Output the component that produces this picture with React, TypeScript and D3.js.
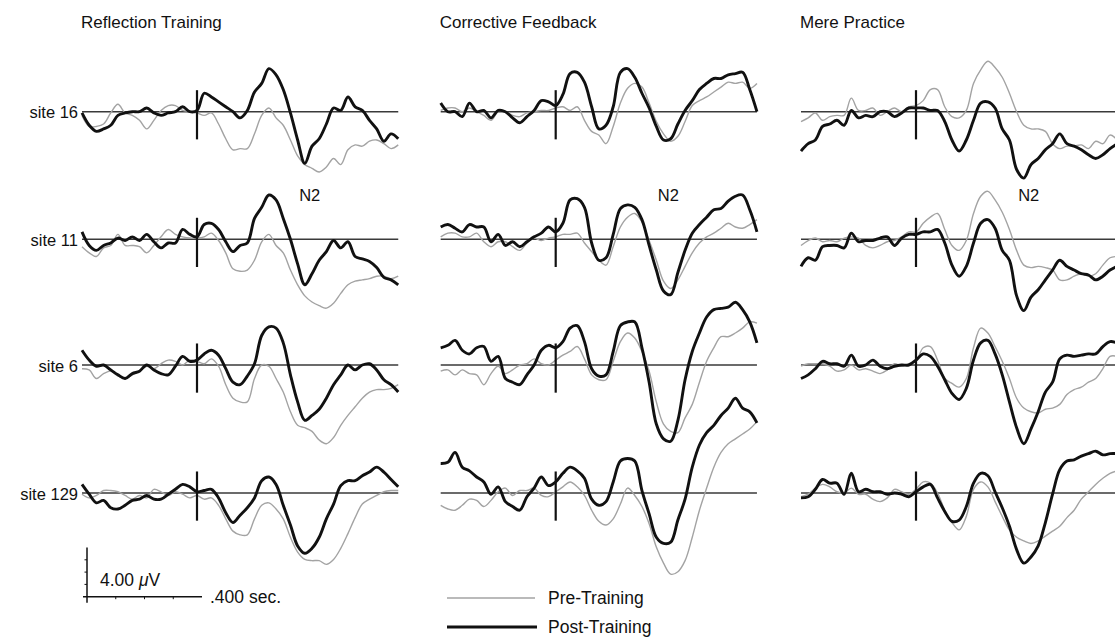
import React from "react";
import * as d3 from "d3";

// sample times (ms relative to stimulus onset)
const times = [-400, -375, -350, -325, -300, -275, -250, -225, -200, -175, -150, -125, -100, -75, -50, -25, 0, 25, 50, 75, 100, 125, 150, 175, 200, 225, 250, 275, 300, 325, 350, 375, 400, 425, 450, 475, 500, 525, 550, 575, 600, 625, 650, 675, 700];

const conditions = ["Reflection Training", "Corrective Feedback", "Mere Practice"];
const sites = ["site 16", "site 11", "site 6", "site 129"];
const legendLabels = ["Pre-Training", "Post-Training"];
const voltLabel = "4.00 ";
const timeLabel = ".400 sec.";
const scaleVolts = 4;
const scaleMs = 400;
const componentLabel = "N2";

// Reflection Training (µV, positive up)
const reflPost16 = [-0.1, -1.1, -1.6, -1.4, -1.1, -0.3, -0.1, 0, 0, 0.3, -0.1, -0.3, -0.1, 0, 0.4, 0, 0.1, 1.5, 1.2, 0.8, 0.4, 0, -0.5, 0.1, 1.6, 2.3, 3.5, 3.0, 1.8, -0.1, -2.3, -4.2, -2.8, -2.2, -1.0, 0.3, 0.1, 1.2, 0.4, 0.1, -0.7, -1.4, -2.4, -1.8, -2.2];
const reflPre16 = [-0.3, -1.2, -1.2, -1.0, -0.1, 0.6, -0.1, -0.3, -0.7, -1.4, -0.7, 0.1, 0.5, 0.5, 0.1, 0, -0.1, -0.3, -0.1, -1.0, -2.2, -3.1, -3.0, -3.0, -1.8, -0.3, 0.3, -0.5, -1.1, -2.3, -3.6, -4.3, -4.6, -4.9, -4.5, -3.8, -4.3, -3.1, -2.7, -2.8, -2.4, -2.3, -2.6, -3.0, -2.7];
const reflPost11 = [0.6, -0.5, -0.9, -0.5, -0.3, 0.1, -0.1, 0.2, -0.1, 0.4, -0.2, -0.7, -0.3, -0.3, 0.8, 0.4, 0.2, 1.2, 1.3, 0.8, -0.2, -1.0, -0.5, -0.3, 1.7, 2.6, 3.6, 3.2, 1.7, 0, -2.0, -3.7, -2.8, -1.7, -1.0, -0.1, -0.7, -0.2, -1.4, -1.6, -1.8, -2.3, -3.1, -3.3, -3.7];
const reflPre11 = [-0.6, -1.1, -1.4, -0.7, -0.5, 0.4, -0.5, -0.5, -0.6, -1.1, -0.5, 0.2, 0.8, 0.4, 0.2, 0.1, 0.1, 0.2, 0.5, -0.1, -1.1, -2.4, -2.6, -2.5, -1.7, -0.2, 0.4, -0.5, -1.1, -2.5, -3.7, -4.6, -5.1, -5.4, -5.6, -5.2, -4.4, -3.7, -3.4, -3.3, -3.2, -3.0, -3.0, -3.2, -3.0];
const reflPost6 = [1.2, 0.4, -0.1, 0, -0.4, -0.8, -1.1, -0.7, -0.5, 0, -0.4, -0.7, -0.8, -0.1, 0.7, 0.3, 0.4, 0.9, 1.2, 0.8, -0.3, -1.4, -1.6, -0.9, 0.1, 2.4, 3.1, 3.0, 1.8, -0.8, -3.0, -4.5, -4.1, -3.6, -2.7, -1.6, -0.8, 0, -0.4, 0, 0.1, -0.4, -1.2, -1.6, -2.2];
const reflPre6 = [-0.3, -0.4, -1.1, -0.7, -0.5, -0.9, -1.1, -0.8, -0.5, -0.1, -0.3, 0.1, 0.4, 0.3, 0, 0.4, 0.3, 0.1, 0.5, -0.1, -1.6, -2.7, -3.0, -3.0, -1.1, 0, -0.1, -1.1, -2.2, -3.8, -4.9, -5.1, -5.4, -6.1, -6.4, -5.9, -4.9, -4.1, -3.4, -2.7, -2.2, -2.0, -2.0, -1.9, -1.6];
const reflPost129 = [0.7, -0.1, -0.8, -0.6, -1.2, -1.3, -1.0, -0.6, -0.5, -0.2, -0.5, -0.5, -0.1, 0.3, 0.7, 0.5, 0.1, 0.2, 0.3, -0.4, -1.6, -2.4, -1.8, -1.2, -0.4, 1.0, 1.3, 0.7, -1.0, -2.6, -4.3, -4.9, -4.5, -3.6, -2.1, -0.9, 0.6, 1.0, 1.0, 1.4, 1.7, 2.1, 1.7, 1.1, 0.5];
const reflPre129 = [-0.1, -0.4, -0.2, 0.2, 0.2, 0.1, -0.2, -0.5, -0.2, -0.4, 0.3, 0.1, -0.2, 0.1, -0.1, -0.4, -0.2, -0.5, -0.4, -1.0, -2.1, -3.1, -3.4, -3.4, -2.1, -1.0, -0.8, -1.3, -2.1, -3.6, -4.8, -5.4, -5.5, -5.5, -5.8, -5.4, -4.5, -3.3, -2.0, -0.9, -0.5, -0.2, 0.1, 0.2, 0.2];

// Corrective Feedback
const corrPost16 = [0.7, 0, 0, -0.4, 0.7, 0, 0.1, -0.5, 0.1, 0, -0.5, -0.9, -0.4, 0.1, 0.9, 0.8, 0.5, 1.4, 3.1, 3.2, 2.4, 0.4, -1.4, -1.1, 0.4, 3.2, 3.5, 2.8, 1.5, 0.3, -1.2, -2.3, -2.2, -1.0, 0.1, 0.9, 1.8, 2.3, 2.7, 2.7, 3.0, 3.1, 3.2, 1.8, 0];
const corrPre16 = [0.1, 0.3, 0.3, 0, 0.3, 0, -0.3, -0.7, 0, 0, -0.3, -0.4, -0.1, 0, 0.1, 0.1, 0.3, 0.4, 0.1, 0.4, -0.7, -1.6, -1.9, -2.6, -1.2, 0.7, 1.9, 2.3, 2.0, 0.7, -0.8, -1.8, -2.4, -2.0, -0.8, 0.5, 0.9, 1.2, 1.6, 2.0, 2.4, 2.3, 2.4, 1.9, 2.3];
const corrPost11 = [1.0, 1.2, 0.9, 0.6, 1.2, 1.0, 1.0, -0.2, 0.4, -0.5, -0.2, -0.6, -0.2, 0.2, 0.5, 1.0, 0.6, 1.3, 3.2, 3.3, 2.6, -0.3, -1.7, -1.5, 0.4, 2.5, 2.8, 2.6, 1.6, -0.5, -2.5, -4.2, -4.5, -2.7, -0.9, 0.5, 1.2, 1.8, 2.4, 2.5, 3.1, 3.5, 3.6, 2.4, 0.6];
const corrPre11 = [0.2, 0.5, 0.5, 0.2, 0.2, 0.5, -0.2, -0.6, -0.2, -0.2, -0.6, -0.9, -0.3, 0.1, -0.1, 0.1, 0.2, 0.4, 0.4, 0.5, -0.3, -1.0, -1.7, -2.1, -0.6, 1.0, 1.8, 2.1, 1.4, -0.1, -1.7, -3.4, -4.0, -3.3, -2.2, -1.1, -0.3, 0.2, 0.5, 0.9, 1.3, 1.0, 0.9, 1.2, 1.6];
const corrPost6 = [1.4, 1.6, 2.0, 1.2, 0.9, 1.4, 1.5, 0.3, 0.7, -1.1, -1.4, -1.6, -0.8, 0, 1.2, 1.6, 1.4, 1.9, 3.0, 3.2, 1.9, -0.3, -0.9, -0.8, 1.1, 3.2, 3.5, 3.5, 1.4, -1.4, -4.8, -6.0, -6.2, -4.5, -1.2, 1.1, 2.6, 3.9, 4.5, 4.6, 4.7, 5.1, 4.5, 3.5, 1.8];
const corrPre6 = [-0.5, -0.4, -0.8, -0.4, -0.7, -0.8, -1.6, -0.7, -0.1, -0.7, -0.4, 0, 0.1, 0.5, 0.1, 0, 0.4, 0.8, 1.1, 1.5, 0.5, -0.8, -1.2, -1.2, 0.3, 1.9, 2.6, 2.2, 1.1, -0.5, -3.0, -4.8, -5.4, -5.5, -4.3, -3.2, -1.4, 0.3, 1.4, 2.3, 2.3, 2.6, 3.0, 3.5, 3.4];
const corrPost129 = [2.4, 2.5, 3.3, 2.1, 1.8, 1.3, 0.9, -0.1, 0.5, -0.7, -1.1, -1.4, -0.3, 0.4, 1.3, 0.6, 0.9, 1.6, 2.1, 1.8, 1.2, -0.5, -1.0, -0.7, 0.9, 2.6, 2.8, 2.6, 0.2, -1.7, -3.6, -4.1, -4.0, -2.2, -0.5, 2.1, 3.9, 4.9, 5.5, 6.3, 6.9, 7.7, 6.9, 6.6, 5.7];
const corrPre129 = [-1.0, -1.3, -1.4, -1.0, -0.5, -0.6, -1.1, -0.6, 0.1, 0.4, -0.2, 0.2, 0.2, 0.4, -0.2, -0.3, 0.1, 0.5, 0.9, 0.5, -0.2, -1.4, -2.3, -2.6, -2.1, -0.9, 0.4, -0.2, -1.1, -2.5, -4.4, -5.7, -6.6, -6.4, -5.5, -3.6, -1.4, 0.4, 2.1, 3.3, 4.0, 4.4, 4.8, 5.2, 5.8];

// Mere Practice
const merePost16 = [-3.2, -2.6, -2.3, -1.2, -1.0, -0.7, -1.1, 0.1, -0.5, -0.3, -0.4, 0, 0, -0.4, -0.1, 0.3, 0.3, 0.3, 0.1, 0.1, -0.8, -2.3, -3.2, -2.3, -0.7, 0.7, 0.8, 0.3, -1.4, -2.3, -4.7, -5.4, -4.3, -3.8, -3.1, -2.6, -1.8, -2.6, -2.8, -3.1, -3.5, -3.8, -3.5, -3.0, -2.6];
const merePre16 = [-0.8, -0.5, -0.1, -0.7, -0.4, -0.3, -0.3, 1.1, 0.1, 0.1, 0.3, -0.3, 0, 0.3, 0, 0.4, 0.5, 0.9, 1.8, 1.8, 0.4, -0.4, -0.5, 0.1, 2.3, 3.4, 4.1, 3.6, 2.8, 1.5, 0, -1.1, -1.4, -1.4, -1.6, -2.6, -3.0, -2.8, -2.8, -2.7, -3.0, -2.4, -2.6, -1.9, -2.3];
const merePost11 = [-2.2, -1.5, -1.7, -0.6, -0.5, -0.5, -0.7, 0.5, -0.2, -0.1, -0.1, 0.1, 0.2, -0.5, 0.1, 0.4, 0.4, 0.6, 0.6, 0.8, -0.3, -2.1, -3.0, -2.2, -0.3, 1.3, 1.6, 0.9, -0.9, -1.7, -4.6, -5.8, -4.7, -4.1, -3.3, -2.5, -1.7, -2.2, -2.5, -2.8, -2.9, -3.3, -3.0, -2.5, -2.2];
const merePre11 = [-0.5, -0.1, 0.1, -0.2, -0.1, -0.2, 0.1, 0.2, 0.1, -0.5, -0.7, -0.5, -0.2, -0.1, 0.2, 0.6, 0.6, 1.3, 1.8, 2.1, 0.8, -0.5, -0.9, -0.1, 2.1, 3.5, 3.9, 3.2, 2.2, 0.8, -0.9, -2.1, -2.3, -2.2, -2.3, -2.5, -3.3, -3.3, -3.0, -2.8, -3.0, -2.8, -2.1, -1.5, -1.4];
const merePost6 = [-1.1, -0.8, -0.3, 0.3, 0.1, 0.1, -0.1, 0.8, -0.1, 0, 0.4, -0.1, -0.3, -0.1, 0, 0, 0.4, 0.9, 0.7, -0.1, -1.2, -2.3, -2.8, -1.9, 0.4, 1.8, 2.0, 0.9, -0.8, -3.0, -5.1, -6.4, -5.2, -3.8, -2.2, -1.4, 0.5, 0.8, 0.7, 0.8, 0.9, 0.9, 1.5, 1.9, 1.8];
const merePre6 = [-0.1, 0.1, 0.1, 0.1, -0.1, -0.5, -0.4, 0, -0.4, -0.3, -0.5, -0.7, -0.4, 0.1, -0.1, 0.1, 0.3, 1.4, 1.5, 0.4, -1.1, -1.5, -1.8, -1.1, 1.4, 3.0, 2.6, 1.5, 0.3, -1.1, -2.7, -3.5, -3.8, -3.9, -3.6, -3.5, -3.2, -2.4, -2.0, -1.8, -1.4, -1.1, -0.3, 0.7, 0.7];
const merePost129 = [-0.4, -0.3, 0.3, 1.1, 0.8, 0.8, -0.1, 1.6, 0.1, 0.3, 0.1, 0.1, -0.1, 0, -0.1, -0.3, 0.1, 0.5, 0.7, -0.4, -1.5, -2.3, -2.2, -1.1, 0.8, 1.6, 1.4, 0.1, -1.2, -2.7, -4.6, -5.7, -5.2, -4.3, -2.4, -0.1, 1.9, 2.6, 2.7, 3.0, 3.2, 3.4, 3.1, 3.2, 3.2];
const merePre129 = [-0.3, -0.1, 0.4, 0.7, 0.5, 0.1, 0, 0.4, -0.1, -0.1, -0.5, -0.7, -0.4, 0.3, 0.1, -0.1, 0.3, 0.9, 0.8, 0, -1.4, -2.4, -3.0, -1.9, 0.3, 0.9, 0.5, -0.7, -1.9, -3.0, -3.6, -3.9, -4.1, -3.9, -3.5, -3.1, -2.7, -2.0, -1.4, -0.5, 0.1, 0.7, 1.2, 1.6, 1.8];

const preTable = [
  [reflPre16, reflPre11, reflPre6, reflPre129],
  [corrPre16, corrPre11, corrPre6, corrPre129],
  [merePre16, merePre11, merePre6, merePre129],
];
const postTable = [
  [reflPost16, reflPost11, reflPost6, reflPost129],
  [corrPost16, corrPost11, corrPost6, corrPost129],
  [merePost16, merePost11, merePost6, merePost129],
];

// layout
const W = 1115;
const H = 638;
const stimX = [197, 555.7, 916];
const rowY = [111.7, 239.3, 365, 493];
const pxPerMs = 0.2875;
const pxPerUV = 12.3;
const tMin = -400;
const tMax = 700;
const FONT = "'Liberation Sans', Arial, Helvetica, sans-serif";
const PRE_COLOR = "#a3a3a3";
const POST_COLOR = "#111";

function xScale(ci: number) {
  const s = stimX[ci];
  return d3.scaleLinear().domain([tMin, tMax]).range([s + tMin * pxPerMs, s + tMax * pxPerMs]);
}
function yScale(ri: number) {
  const b = rowY[ri];
  return d3.scaleLinear().domain([-1, 1]).range([b + pxPerUV, b - pxPerUV]);
}

function Panel({ ci, ri }: { ci: number; ri: number }) {
  const x = xScale(ci);
  const y = yScale(ri);
  const line = d3
    .line<number>()
    .x((_, i) => x(times[i]))
    .y((d) => y(d))
    .curve(d3.curveCatmullRom.alpha(0.5));
  return (
    <g>
      <line x1={x(tMin)} x2={x(tMax)} y1={y(0)} y2={y(0)} stroke="#3a3a3a" strokeWidth={1.5} />
      <path d={line(preTable[ci][ri]) || ""} fill="none" stroke={PRE_COLOR} strokeWidth={1.4} strokeLinejoin="round" />
      <path d={line(postTable[ci][ri]) || ""} fill="none" stroke={POST_COLOR} strokeWidth={2.9} strokeLinejoin="round" />
      <line x1={x(0)} x2={x(0)} y1={y(1.75)} y2={y(-2.25)} stroke="#111" strokeWidth={2.2} />
    </g>
  );
}

export default function App() {
  // scale bar
  const sbX0 = 87;
  const sbY0 = 596.7;
  const sx = d3.scaleLinear().domain([0, scaleMs]).range([sbX0, sbX0 + scaleMs * pxPerMs]);
  const sy = d3.scaleLinear().domain([0, scaleVolts]).range([sbY0, sbY0 - scaleVolts * pxPerUV]);
  const msTicks = [100, 200, 300];
  const uvTicks = [1, 2, 3];

  return (
    <svg
      width={W}
      height={H}
      style={{ position: "absolute", left: 0, top: 0, background: "#fff" }}
      fontFamily={FONT}
    >
      <rect x={0} y={0} width={W} height={H} fill="#fff" />
      {conditions.map((c, ci) => (
        <text key={c} x={stimX[ci] - 116} y={28} fontSize={17} fill="#111">
          {c}
        </text>
      ))}
      {sites.map((s, ri) => (
        <text key={s} x={78} y={rowY[ri] + 1} dy="0.35em" textAnchor="end" fontSize={16.5} fill="#111">
          {s}
        </text>
      ))}
      {conditions.map((_, ci) => (
        <text key={"n2" + ci} x={xScale(ci)(392)} y={201} textAnchor="middle" fontSize={16.5} fill="#111">
          {componentLabel}
        </text>
      ))}
      {conditions.map((_, ci) =>
        sites.map((__, ri) => <Panel key={ci + "-" + ri} ci={ci} ri={ri} />)
      )}

      {/* scale bar */}
      <g stroke="#111" strokeWidth={1.5}>
        <line x1={sx(0) - 4} x2={sx(scaleMs)} y1={sy(0)} y2={sy(0)} />
        <line x1={sx(0)} x2={sx(0)} y1={sy(scaleVolts)} y2={sy(0) + 6} />
        {msTicks.map((t) => (
          <line key={"mt" + t} x1={sx(t)} x2={sx(t)} y1={sy(0)} y2={sy(0) + 2.5} strokeWidth={1} />
        ))}
        {uvTicks.map((v) => (
          <line key={"vt" + v} x1={sx(0)} x2={sx(0) - 2.5} y1={sy(v)} y2={sy(v)} strokeWidth={1} />
        ))}
      </g>
      <text x={100} y={586} fontSize={17.5} fill="#111">
        {voltLabel}
        <tspan fontStyle="italic">μ</tspan>V
      </text>
      <text x={210} y={603} fontSize={17.5} fill="#111">
        {timeLabel}
      </text>

      {/* legend */}
      <line x1={447} x2={535} y1={598} y2={598} stroke={PRE_COLOR} strokeWidth={1.4} />
      <line x1={447} x2={537} y1={627} y2={627} stroke={POST_COLOR} strokeWidth={2.9} />
      <text x={548} y={598} dy="0.35em" fontSize={17.5} fill="#111">
        {legendLabels[0]}
      </text>
      <text x={548} y={627} dy="0.35em" fontSize={17.5} fill="#111">
        {legendLabels[1]}
      </text>
    </svg>
  );
}
